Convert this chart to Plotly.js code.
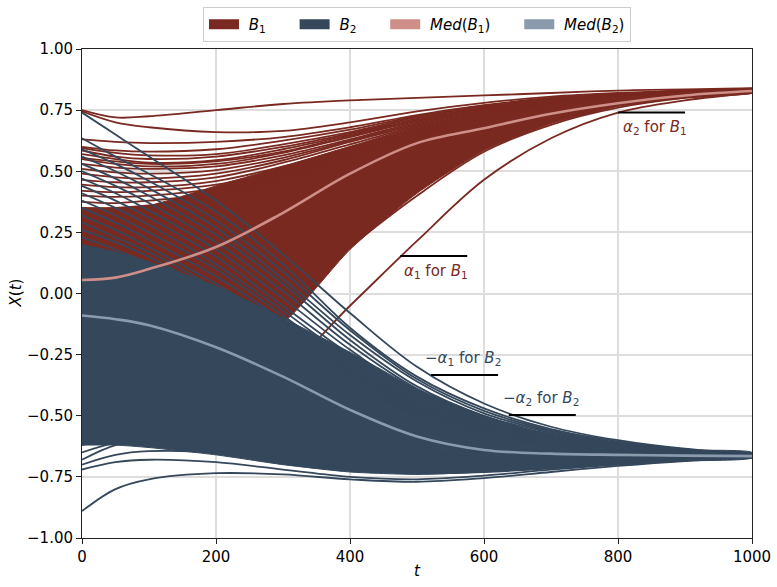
<!DOCTYPE html>
<html>
<head>
<meta charset="utf-8">
<script src="https://cdn.plot.ly/plotly-3.0.1.min.js"></script>
<style>
  html, body { margin: 0; padding: 0; background: #fff; }
  #chart { width: 777px; height: 587px; }
</style>
</head>
<body>
<div id="chart"></div>
<script>
// sample times shared by every trajectory below
const T = [0, 50, 100, 200, 300, 400, 500, 600, 700, 800, 900, 1000];

// ── B1 (red) trajectories ───────────────────────────────────────────────────
const b1Lines = [
    [0.75, 0.72, 0.725, 0.75, 0.775, 0.79, 0.80, 0.81, 0.82, 0.83, 0.835, 0.84],
    [0.745, 0.70, 0.68, 0.66, 0.665, 0.70, 0.745, 0.78, 0.805, 0.82, 0.83, 0.838],
    [0.63, 0.62, 0.615, 0.62, 0.64, 0.68, 0.73, 0.77, 0.80, 0.815, 0.83, 0.836],
    [0.60, 0.585, 0.58, 0.59, 0.625, 0.67, 0.725, 0.768, 0.797, 0.815, 0.83, 0.836],
    [0.595, 0.575, 0.565, 0.57, 0.61, 0.66, 0.72, 0.765, 0.795, 0.815, 0.83, 0.836],
    [0.585, 0.56, 0.55, 0.56, 0.60, 0.655, 0.715, 0.76, 0.795, 0.815, 0.828, 0.835],
    [0.57, 0.55, 0.535, 0.545, 0.59, 0.65, 0.71, 0.76, 0.79, 0.812, 0.827, 0.835],
    [0.555, 0.54, 0.53, 0.54, 0.58, 0.645, 0.707, 0.757, 0.79, 0.811, 0.826, 0.834],
    [0.55, 0.53, 0.52, 0.53, 0.575, 0.64, 0.705, 0.755, 0.79, 0.81, 0.826, 0.834],
    [0.53, 0.515, 0.51, 0.52, 0.565, 0.63, 0.70, 0.75, 0.787, 0.81, 0.825, 0.834],
    [0.51, 0.495, 0.49, 0.505, 0.555, 0.625, 0.695, 0.748, 0.785, 0.808, 0.825, 0.833],
    [0.49, 0.475, 0.47, 0.49, 0.545, 0.62, 0.69, 0.745, 0.783, 0.807, 0.824, 0.833],
    [0.465, 0.455, 0.455, 0.475, 0.535, 0.61, 0.685, 0.74, 0.78, 0.805, 0.823, 0.832],
    [0.445, 0.435, 0.435, 0.46, 0.52, 0.60, 0.68, 0.738, 0.778, 0.804, 0.822, 0.832],
    [0.42, 0.415, 0.42, 0.445, 0.51, 0.59, 0.675, 0.735, 0.776, 0.803, 0.822, 0.831],
    [0.40, 0.395, 0.40, 0.43, 0.495, 0.58, 0.67, 0.73, 0.774, 0.802, 0.821, 0.831],
    [0.375, 0.37, 0.38, 0.41, 0.48, 0.57, 0.66, 0.725, 0.772, 0.80, 0.82, 0.83],
    [0.35, 0.35, 0.36, 0.395, 0.47, 0.56, 0.655, 0.72, 0.77, 0.80, 0.82, 0.83],
    [-0.58, -0.44, -0.36, -0.22, -0.04, 0.19, 0.40, 0.58, 0.69, 0.76, 0.80, 0.82],
    [-0.50, -0.49, -0.47, -0.40, -0.31, -0.05, 0.215, 0.465, 0.635, 0.74, 0.79, 0.82],
];
// solid part of the B1 bundle
const b1BandUpper = [0.35, 0.35, 0.36, 0.44, 0.52, 0.60, 0.675, 0.73, 0.772, 0.80, 0.82, 0.83];
const b1BandLower = [-0.45, -0.40, -0.35, -0.24, -0.12, 0.18, 0.41, 0.585, 0.695, 0.765, 0.80, 0.82];
const b1Median = [0.055, 0.065, 0.10, 0.19, 0.33, 0.49, 0.615, 0.676, 0.735, 0.778, 0.81, 0.828];

// ── B2 (blue) trajectories ──────────────────────────────────────────────────
const b2Lines = [
    [0.74, 0.65, 0.56, 0.38, 0.16, -0.08, -0.30, -0.45, -0.545, -0.60, -0.635, -0.655],
    [0.635, 0.56, 0.49, 0.335, 0.12, -0.14, -0.34, -0.47, -0.555, -0.605, -0.638, -0.656],
    [0.59, 0.53, 0.46, 0.30, 0.09, -0.15, -0.35, -0.48, -0.56, -0.61, -0.64, -0.657],
    [0.56, 0.50, 0.43, 0.27, 0.06, -0.17, -0.36, -0.49, -0.565, -0.612, -0.642, -0.658],
    [0.53, 0.47, 0.40, 0.24, 0.04, -0.19, -0.38, -0.50, -0.57, -0.615, -0.644, -0.659],
    [0.50, 0.44, 0.37, 0.21, 0.01, -0.21, -0.39, -0.51, -0.575, -0.618, -0.646, -0.66],
    [0.47, 0.41, 0.34, 0.18, -0.02, -0.23, -0.41, -0.52, -0.58, -0.62, -0.648, -0.66],
    [0.44, 0.38, 0.31, 0.15, -0.05, -0.25, -0.42, -0.53, -0.59, -0.625, -0.65, -0.661],
    [0.41, 0.35, 0.28, 0.12, -0.07, -0.27, -0.44, -0.54, -0.595, -0.63, -0.651, -0.662],
    [0.38, 0.32, 0.25, 0.10, -0.09, -0.29, -0.45, -0.55, -0.60, -0.633, -0.652, -0.662],
    [0.35, 0.29, 0.22, 0.07, -0.11, -0.31, -0.46, -0.555, -0.605, -0.636, -0.653, -0.663],
    [0.32, 0.26, 0.19, 0.04, -0.13, -0.32, -0.47, -0.56, -0.61, -0.64, -0.654, -0.663],
    [0.29, 0.23, 0.17, 0.02, -0.15, -0.33, -0.48, -0.565, -0.615, -0.642, -0.655, -0.664],
    [0.26, 0.21, 0.15, 0.00, -0.17, -0.35, -0.49, -0.57, -0.62, -0.645, -0.656, -0.664],
    [0.23, 0.18, 0.12, -0.02, -0.19, -0.36, -0.50, -0.575, -0.622, -0.646, -0.657, -0.665],
    [-0.48, -0.48, -0.485, -0.50, -0.54, -0.595, -0.645, -0.672, -0.678, -0.672, -0.667, -0.665],
    [-0.52, -0.51, -0.51, -0.525, -0.555, -0.605, -0.655, -0.68, -0.68, -0.675, -0.668, -0.665],
    [-0.56, -0.55, -0.545, -0.55, -0.575, -0.62, -0.665, -0.685, -0.685, -0.678, -0.67, -0.666],
    [-0.59, -0.575, -0.57, -0.58, -0.60, -0.64, -0.68, -0.695, -0.69, -0.68, -0.672, -0.666],
    [-0.62, -0.585, -0.58, -0.59, -0.615, -0.655, -0.69, -0.70, -0.695, -0.685, -0.674, -0.667],
    [-0.65, -0.61, -0.59, -0.60, -0.63, -0.67, -0.70, -0.71, -0.70, -0.688, -0.676, -0.668],
    [-0.68, -0.62, -0.60, -0.61, -0.645, -0.69, -0.72, -0.72, -0.705, -0.69, -0.678, -0.669],
    [-0.70, -0.66, -0.645, -0.65, -0.68, -0.715, -0.735, -0.73, -0.715, -0.695, -0.68, -0.67],
    [-0.72, -0.69, -0.68, -0.69, -0.72, -0.75, -0.76, -0.745, -0.72, -0.70, -0.683, -0.671],
    [-0.89, -0.80, -0.76, -0.735, -0.74, -0.76, -0.77, -0.755, -0.73, -0.705, -0.685, -0.672],
];
const b2BandUpper = [0.20, 0.17, 0.13, 0.03, -0.10, -0.24, -0.39, -0.50, -0.58, -0.62, -0.64, -0.65];
const b2BandLower = [-0.62, -0.62, -0.63, -0.66, -0.70, -0.73, -0.74, -0.73, -0.715, -0.70, -0.685, -0.672];
const b2Median = [-0.09, -0.105, -0.13, -0.22, -0.34, -0.476, -0.585, -0.64, -0.655, -0.66, -0.663, -0.665];

// ── threshold marks ─────────────────────────────────────────────────────────
const markLevels = [0.153, 0.74, -0.333, -0.497];
const markStarts = [475, 800, 521, 637];
const markLength = 100;
const markLabels = [
    "<i>α</i><sub>1</sub> for <i>B</i><sub>1</sub>",
    "<i>α</i><sub>2</sub> for <i>B</i><sub>1</sub>",
    "−<i>α</i><sub>1</sub> for <i>B</i><sub>2</sub>",
    "−<i>α</i><sub>2</sub> for <i>B</i><sub>2</sub>",
];
const labelX = [477, 805, 509, 625];
const labelY = [0.09, 0.68, -0.265, -0.43];

const legendNames = ["<i>B</i><sub>1</sub>", "<i>B</i><sub>2</sub>",
    "<i>Med</i>(<i>B</i><sub>1</sub>)", "<i>Med</i>(<i>B</i><sub>2</sub>)"];

const COL_B1 = "#7a2920";
const COL_B2 = "#34475b";
const COL_MED1 = "#cf8f89";
const COL_MED2 = "#8a9bae";
const FONT = "DejaVu Sans, sans-serif";

function bandTrace(upper, lower, color) {
    return {
        x: T.concat(T.slice().reverse()),
        y: upper.concat(lower.slice().reverse()),
        type: "scatter", mode: "lines", fill: "toself",
        fillcolor: color, line: { color: color, width: 1, shape: "spline", smoothing: 0.6 },
        hoverinfo: "skip", showlegend: false,
    };
}

function lineTraces(lines, color, width) {
    return lines.map((ys) => ({
        x: T, y: ys, type: "scatter", mode: "lines",
        line: { color: color, width: width, shape: "spline", smoothing: 1 },
        hoverinfo: "skip", showlegend: false,
    }));
}

const traces = [];
traces.push(bandTrace(b1BandUpper, b1BandLower, COL_B1));
traces.push(...lineTraces(b1Lines, COL_B1, 1.8));
traces.push(bandTrace(b2BandUpper, b2BandLower, COL_B2));
traces.push(...lineTraces(b2Lines, COL_B2, 1.8));
traces.push(...lineTraces([b1Median], COL_MED1, 2.6));
traces.push(...lineTraces([b2Median], COL_MED2, 2.6));

// black threshold segments
markLevels.forEach((lv, i) => {
    traces.push({
        x: [markStarts[i], markStarts[i] + markLength], y: [lv, lv],
        type: "scatter", mode: "lines", line: { color: "#000", width: 2 },
        hoverinfo: "skip", showlegend: false,
    });
});

// legend-only entries, padded so the spacing matches the matplotlib legend
const SP = "\u00a0";
[COL_B1, COL_B2, COL_MED1, COL_MED2].forEach((c, i) => {
    const tail = i < 3 ? SP.repeat(5) : "";
    traces.push({
        x: [null], y: [null], type: "scatter", mode: "lines",
        name: SP + legendNames[i] + tail, line: { color: c, width: 11 },
    });
});

const labelColors = [COL_B1, COL_B1, COL_B2, COL_B2];
const annotations = markLabels.map((txt, i) => ({
    x: labelX[i], y: labelY[i], xref: "x", yref: "y",
    text: txt, showarrow: false, xanchor: "left", yanchor: "middle",
    font: { family: FONT, size: 15, color: labelColors[i] },
}));

// axis titles placed by hand
annotations.push({
    x: 0.5, y: -0.0675, xref: "paper", yref: "paper", text: "<i>t</i>",
    showarrow: false, xanchor: "center", yanchor: "middle",
    font: { family: FONT, size: 15, color: "#000" },
});
annotations.push({
    x: -0.1, y: 0.5, xref: "paper", yref: "paper", text: "<i>X</i>(<i>t</i>)",
    showarrow: false, xanchor: "center", yanchor: "middle", textangle: -90,
    font: { family: FONT, size: 15, color: "#000" },
});

const axisCommon = {
    showgrid: true, gridcolor: "#dddddd", gridwidth: 2, zeroline: false,
    showline: true, mirror: true, linecolor: "#222", linewidth: 1,
    ticks: "outside", ticklen: 5, tickcolor: "#222",
    tickfont: { family: FONT, size: 15, color: "#000" },
};

const layout = {
    width: 777, height: 587,
    paper_bgcolor: "#fff", plot_bgcolor: "#fff",
    margin: { l: 82, r: 25, t: 49, b: 49 },
    font: { family: FONT, size: 15, color: "#000" },
    xaxis: Object.assign({}, axisCommon, { range: [0, 1000], dtick: 200, tick0: 0 }),
    yaxis: Object.assign({}, axisCommon, { range: [-1, 1], dtick: 0.25, tick0: 0, tickformat: ".2f" }),
    showlegend: true,
    legend: {
        orientation: "h", x: 0.5, xanchor: "center", xref: "paper",
        y: 1 - 7 / 587, yanchor: "top", yref: "container",
        bgcolor: "#fff", bordercolor: "#cccccc", borderwidth: 1,
        font: { family: FONT, size: 15 },
    },
    annotations: annotations,
};

Plotly.newPlot("chart", traces, layout, { staticPlot: true, displayModeBar: false });
</script>
</body>
</html>
